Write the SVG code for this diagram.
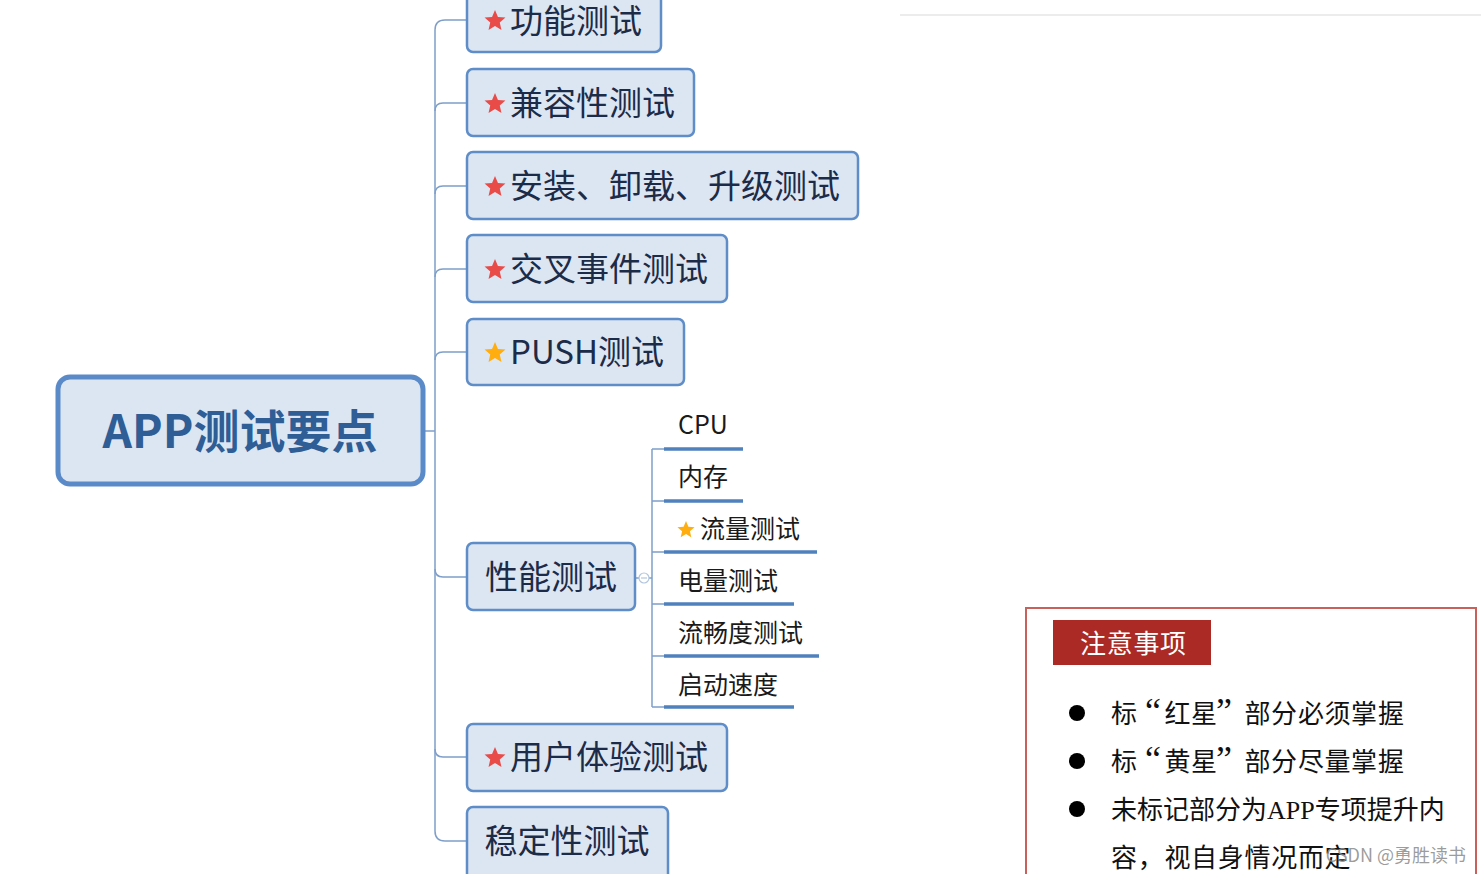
<svg xmlns="http://www.w3.org/2000/svg" width="1481" height="874" viewBox="0 0 1481 874">
<defs>
<style>
.box{fill:#dce6f2;stroke:#5f8dc8;stroke-width:2.5}
.root{fill:#dce6f2;stroke:#5b8ac9;stroke-width:5}
.t{font-family:"Noto Sans CJK SC","Noto Sans",sans-serif;font-size:33px;fill:#1c2b48}
.rt{font-family:"Noto Sans CJK SC","Noto Sans",sans-serif;font-size:46px;font-weight:bold;fill:#2f5d96}
.st{font-family:"Noto Sans CJK SC","Noto Sans",sans-serif;font-size:25px;fill:#1a1a1a}
.con{fill:none;stroke:#7f9fc9;stroke-width:1.5}
.ul{stroke:#4f81bd;stroke-width:3.5}
.nt{font-family:"Liberation Serif","Noto Sans CJK SC",serif;font-size:26px;fill:#111;letter-spacing:0.7px}
.q{font-size:36px}
.red{fill:#e94b48}
.yel{fill:#ffad0f}
</style>
<polygon id="star" points="0,-11 2.94,-4.05 10.46,-3.4 4.76,1.55 6.47,8.9 0,5 -6.47,8.9 -4.76,1.55 -10.46,-3.4 -2.94,-4.05"/>
<polygon id="sstar" points="0,-9 2.4,-3.3 8.56,-2.78 3.9,1.27 5.29,7.28 0,4.1 -5.29,7.28 -3.9,1.27 -8.56,-2.78 -2.4,-3.3"/>
</defs>
<rect width="1481" height="874" fill="#ffffff"/>
<line x1="900" y1="15" x2="1481" y2="15" stroke="#ececec" stroke-width="2"/>

<g id="connectors">
<path class="con" d="M424,431 L435,431"/>
<path class="con" d="M467,20 L445,20 Q435,20 435,30 L435,831 Q435,841 445,841 L467,841"/>
<path class="con" d="M435,111 Q435,103 443,103 L467,103"/>
<path class="con" d="M435,194 Q435,186 443,186 L467,186"/>
<path class="con" d="M435,277 Q435,269 443,269 L467,269"/>
<path class="con" d="M435,360 Q435,352 443,352 L467,352"/>
<path class="con" d="M435,569 Q435,577 443,577 L467,577"/>
<path class="con" d="M435,749 Q435,757 443,757 L467,757"/>
<path class="con" d="M635,578 L652,578"/>
<path class="con" d="M652,449 L652,707"/>
<path class="con" d="M652,449 L664,449 M652,501 L664,501 M652,552 L664,552 M652,604 L664,604 M652,656 L664,656 M652,707 L664,707"/>
</g>

<g id="root">
<rect class="root" x="58" y="377" width="365" height="107" rx="12"/>
<text class="rt" x="240" y="448" text-anchor="middle">APP测试要点</text>
</g>

<g id="n1">
<rect class="box" x="467" y="-10" width="194" height="62" rx="6"/>
<use href="#star" class="red" x="495" y="21"/>
<text class="t" x="510" y="33">功能测试</text>
</g>
<g id="n2">
<rect class="box" x="467" y="69" width="227" height="67" rx="6"/>
<use href="#star" class="red" x="495" y="104"/>
<text class="t" x="510" y="115">兼容性测试</text>
</g>
<g id="n3">
<rect class="box" x="467" y="152" width="391" height="67" rx="6"/>
<use href="#star" class="red" x="495" y="187"/>
<text class="t" x="510" y="198">安装、卸载、升级测试</text>
</g>
<g id="n4">
<rect class="box" x="467" y="235" width="260" height="67" rx="6"/>
<use href="#star" class="red" x="495" y="270"/>
<text class="t" x="510" y="281">交叉事件测试</text>
</g>
<g id="n5">
<rect class="box" x="467" y="319" width="217" height="66" rx="6"/>
<use href="#star" class="yel" x="495" y="353"/>
<text class="t" x="510" y="364">PUSH测试</text>
</g>
<g id="n6">
<rect class="box" x="467" y="543" width="168" height="67" rx="6"/>
<text class="t" x="551" y="589" text-anchor="middle">性能测试</text>
<circle cx="644" cy="578" r="5" fill="#ffffff" stroke="#b3c6de" stroke-width="1.2"/>
<line x1="641" y1="578" x2="647" y2="578" stroke="#b3c6de" stroke-width="1.2"/>
</g>
<g id="n7">
<rect class="box" x="467" y="724" width="260" height="67" rx="6"/>
<use href="#star" class="red" x="495" y="758"/>
<text class="t" x="510" y="769">用户体验测试</text>
</g>
<g id="n8">
<rect class="box" x="467" y="807" width="201" height="80" rx="6"/>
<text class="t" x="567" y="853" text-anchor="middle">稳定性测试</text>
</g>

<g id="s1"><text class="st" x="678" y="434">CPU</text><line class="ul" x1="664" y1="449" x2="743" y2="449"/></g>
<g id="s2"><text class="st" x="678" y="486">内存</text><line class="ul" x1="664" y1="501" x2="743" y2="501"/></g>
<g id="s3"><use href="#sstar" class="yel" x="686" y="530"/><text class="st" x="700" y="538">流量测试</text><line class="ul" x1="664" y1="552" x2="817" y2="552"/></g>
<g id="s4"><text class="st" x="678" y="590">电量测试</text><line class="ul" x1="664" y1="604" x2="794" y2="604"/></g>
<g id="s5"><text class="st" x="678" y="642">流畅度测试</text><line class="ul" x1="664" y1="656" x2="819" y2="656"/></g>
<g id="s6"><text class="st" x="678" y="694">启动速度</text><line class="ul" x1="664" y1="707" x2="794" y2="707"/></g>

<g id="notes">
<rect x="1026" y="608" width="450" height="280" fill="#ffffff" stroke="#c8615c" stroke-width="2"/>
<rect x="1053" y="620" width="158" height="45" fill="#ab2a25"/>
<text class="nt" x="1080" y="653" style="fill:#ffffff">注意事项</text>
<circle cx="1077" cy="713" r="8" fill="#000"/>
<circle cx="1077" cy="761" r="8" fill="#000"/>
<circle cx="1077" cy="809" r="8" fill="#000"/>
<text class="nt" x="1111 1145 1164.4 1191 1216 1244.5 1271 1298 1324.6 1351 1378" y="723">标<tspan class="q">“</tspan>红星<tspan class="q">”</tspan>部分必须掌握</text>
<text class="nt" x="1111 1145 1164.4 1191 1216 1244.5 1271 1298 1324.6 1351 1378" y="771">标<tspan class="q">“</tspan>黄星<tspan class="q">”</tspan>部分尽量掌握</text>
<text class="nt" x="1111" y="819" style="letter-spacing:0">未标记部分为APP专项提升内</text>
<text class="nt" x="1111" y="867">容，视自身情况而定</text>
</g>
<text x="1466" y="862" text-anchor="end" font-family="Noto Sans CJK SC, sans-serif" font-size="18" fill="#8a8a8a" fill-opacity="0.85">CSDN @勇胜读书</text>
</svg>
